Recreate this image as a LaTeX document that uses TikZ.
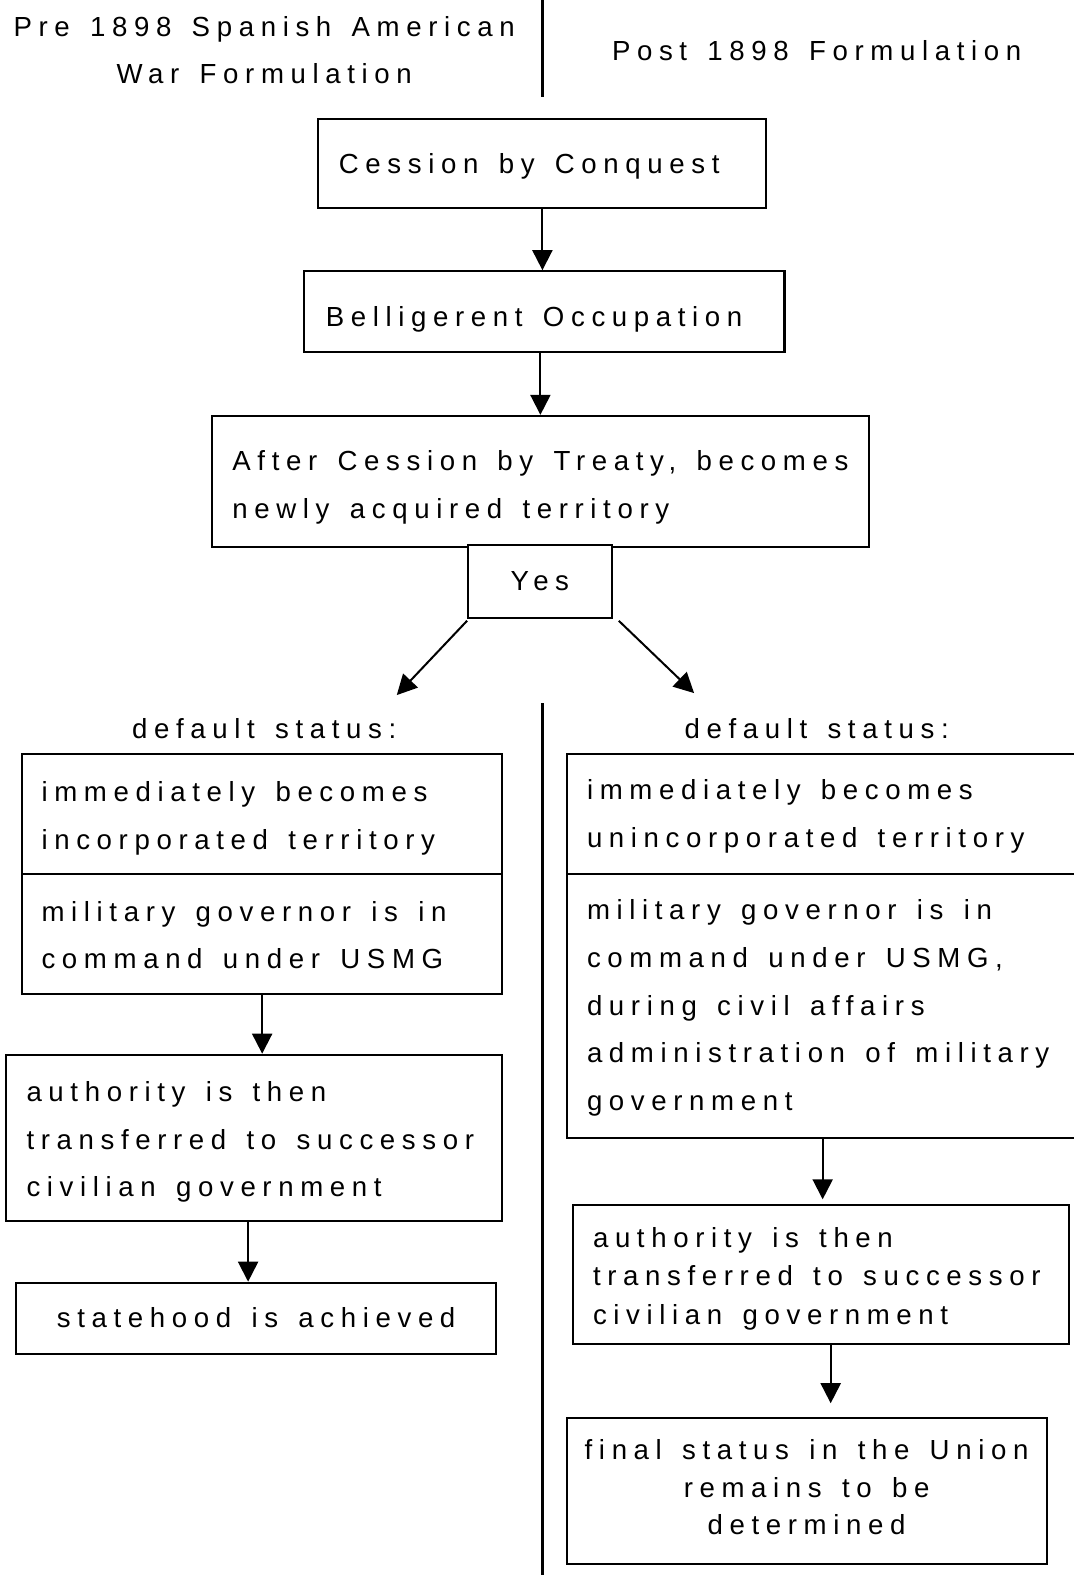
\documentclass[tikz,border=0pt]{standalone}
\usepackage{fontspec}
\setmainfont[LetterSpace=24,WordSpace=1.42]{Liberation Sans}
\usetikzlibrary{arrows.meta,fit,calc}
\begin{document}
\begin{tikzpicture}[x=0.5pt,y=-0.5pt,
  box/.style={draw, line width=1pt, inner sep=0pt},
  txt/.style={font=\fontsize{13.75pt}{23.75pt}\selectfont, inner sep=0pt, align=left, anchor=west},
  tighttxt/.style={font=\fontsize{13.75pt}{19pt}\selectfont, inner sep=0pt, align=left, anchor=west},
  ctxt/.style={font=\fontsize{13.75pt}{23.75pt}\selectfont, inner sep=0pt, align=center},
  arr/.style={line width=1pt, -{Triangle[length=10pt,width=10pt]}},
  divider/.style={line width=1.5pt}]
\useasboundingbox (0,0) rectangle (1069,1568);
% headers
\node[ctxt, font=\fontsize{13.75pt}{23pt}\selectfont] (hl) at (263,50) {Pre 1898 Spanish American\\War Formulation};
\node[ctxt] (hr) at (813,50) {Post 1898 Formulation};
\coordinate (d1a) at (540,0);
\coordinate (d1b) at (540,97);
\draw[divider] (d1a) -- (d1b);
% top chain
\node[box, fit={(317,118) (763,207)}] (b1) {};
\node[txt] (t1) at ($(b1.west)+(21,3)$) {Cession by Conquest};
\node[box, fit={(303,270) (781,350)}] (b2) {};
\node[txt] (t2) at ($(b2.west)+(22,8)$) {Belligerent Occupation};
\node[box, fit={(211,414) (865,545)}] (b3) {};
\node[txt] (t3) at ($(b3.west)+(21,6)$) {After Cession by Treaty, becomes\\newly acquired territory};
\node[box, fill=white, fit={(466,543) (609,615)}] (yes) {};
\node[ctxt] (tyes) at ($(yes.center)+(0,0)$) {Yes};
\draw[arr] (b1.south) -- (b1.south |- b2.north);
\draw[arr] (b2.south -| 538,0) -- (b3.north -| 538,0);
\coordinate (dl) at (395,692);
\coordinate (dr) at (691,690);
\draw[arr] ($(yes.south west)+(0,2)$) -- (dl);
\draw[arr] ($(yes.south east)+(6,2)$) -- (dr);
% default status
\node[ctxt] (dsl) at (263,725) {default status:};
\node[ctxt] (dsr) at (813,725) {default status:};
\coordinate (d2a) at (540,700);
\coordinate (d2b) at (540,1568);
\draw[divider] (d2a) -- (d2b);
% left column
\node[box, fit={(22,751) (500,870)}] (la) {};
\node[txt] (tla) at ($(la.west)+(20,4)$) {immediately becomes\\incorporated territory};
\node[box, fit={(22,870) (500,990)}] (lb) {};
\node[txt] (tlb) at ($(lb.west)+(20,1)$) {military governor is in\\command under USMG};
\node[box, fit={(6,1050) (500,1216)}] (lc) {};
\node[txt] (tlc) at ($(lc.west)+(21,4)$) {authority is then\\transferred to successor\\civilian government};
\node[box, fit={(16,1277) (494,1348)}] (ld) {};
\node[ctxt] (tld) at ($(ld.center)+(0,-1)$) {statehood is achieved};
\draw[arr] (lb.south) -- (lb.south |- lc.north);
\draw[arr] (lc.south -| 247,0) -- (ld.north -| 247,0);
% right column
\node[box, fit={(564,751) (1085,870)}] (ra) {};
\node[txt] (tra) at ($(ra.west)+(21,2)$) {immediately becomes\\unincorporated territory};
\node[box, fit={(564,870) (1085,1133)}] (rb) {};
\node[txt] (trb) at ($(rb.west)+(21,2)$) {military governor is in\\command under USMG,\\during civil affairs\\administration of military\\government};
\node[box, fit={(570,1200) (1064,1338)}] (rc) {};
\node[tighttxt] (trc) at ($(rc.west)+(21,4)$) {authority is then\\transferred to successor\\civilian government};
\node[box, fit={(564,1412) (1042,1557)}] (rd) {};
\node[ctxt, font=\fontsize{13.75pt}{18.75pt}\selectfont] (trd) at ($(rd.center)+(0,-4)$) {final status in the Union\\remains to be\\determined};
\draw[arr] (rb.south -| 819,0) -- ($(rc.north -| 819,0)+(0,-5)$);
\draw[arr] (rc.south -| 827,0) -- ($(rd.north -| 827,0)+(0,-14)$);
\end{tikzpicture}
\end{document}
